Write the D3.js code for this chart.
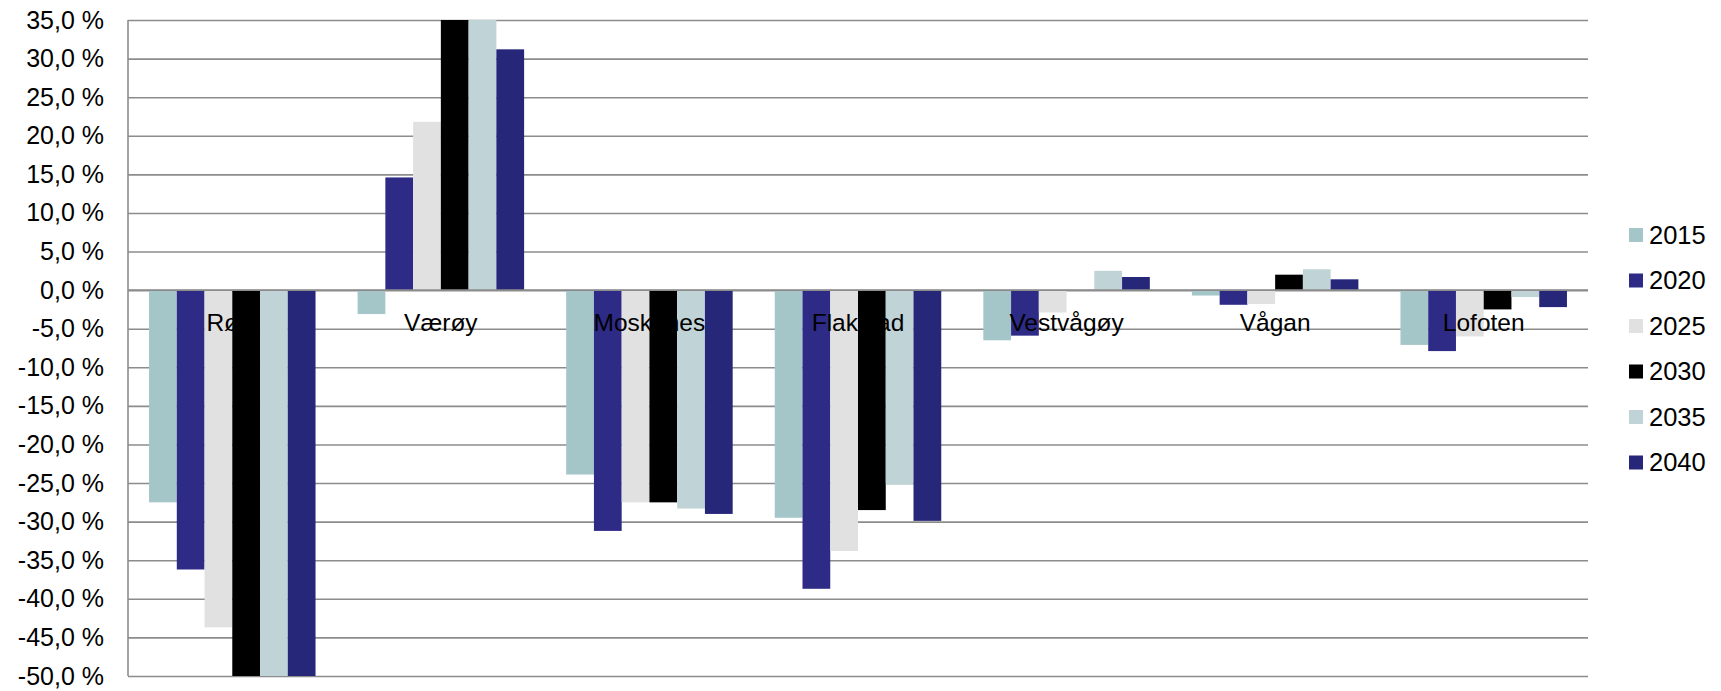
<!DOCTYPE html>
<html>
<head>
<meta charset="utf-8">
<script src="https://cdn.jsdelivr.net/npm/d3@7"></script>
<style>
  body { margin: 0; background: #fff; }
  text { font-family: "Liberation Sans", Arial, sans-serif; fill: #000; }
</style>
</head>
<body>
<div id="chart"></div>
<script>
// data (percent change)
const municipalities = ['Røst', 'Værøy', 'Moskenes', 'Flakstad', 'Vestvågøy', 'Vågan', 'Lofoten'];
const years = ['2015', '2020', '2025', '2030', '2035', '2040'];
const values2015 = [-27.5, -3.1, -23.9, -29.5, -6.5, -0.7, -7.1];
const values2020 = [-36.2, 14.6, -31.2, -38.7, -5.9, -1.9, -7.9];
const values2025 = [-43.7, 21.8, -27.5, -33.8, -2.9, -1.8, -6.0];
const values2030 = [-50.0, 35.0, -27.5, -28.5, 0.0, 2.0, -2.5];
const values2035 = [-50.0, 35.0, -28.3, -25.2, 2.5, 2.7, -0.9];
const values2040 = [-50.0, 31.2, -29.0, -29.9, 1.7, 1.4, -2.2];
const yTicks = [35, 30, 25, 20, 15, 10, 5, 0, -5, -10, -15, -20, -25, -30, -35, -40, -45, -50];

const seriesValues = [values2015, values2020, values2025, values2030, values2035, values2040];
const colors = ['#a5c6c9', '#2e2b87', '#e1e1e1', '#000000', '#c0d3d6', '#27277a'];

const margin = {
  top: 20, right: 133, bottom: 15, left: 128,
};
const totalWidth = 1721;
const totalHeight = 691;
const width = totalWidth - margin.left - margin.right;
const height = totalHeight - margin.top - margin.bottom;

const locale = d3.formatLocale({
  decimal: ',', thousands: ' ', grouping: [3], currency: ['', ''], minus: '-',
});
const fmt = locale.format('.1f');

const x0 = d3.scaleBand()
  .domain(municipalities)
  .range([0, width])
  .padding(0);
const x1 = d3.scaleBand()
  .domain(years)
  .range([0, x0.bandwidth()])
  .paddingInner(0)
  .paddingOuter(0.758);
const y = d3.scaleLinear()
  .domain([-50, 35])
  .range([height, 0]);
const color = d3.scaleOrdinal(years, colors);

const svg = d3.select('#chart').append('svg')
  .attr('width', totalWidth)
  .attr('height', totalHeight);

svg.append('defs').append('clipPath')
  .attr('id', 'plot-clip')
  .append('rect')
  .attr('width', width)
  .attr('height', height);

const g = svg.append('g')
  .attr('transform', `translate(${margin.left},${margin.top})`);

// gridlines + tick labels
const yAxis = g.append('g')
  .call(d3.axisLeft(y)
    .tickValues(yTicks)
    .tickSize(-width)
    .tickPadding(24)
    .tickFormat(d => `${fmt(d)} %`));
yAxis.select('.domain').remove();
yAxis.selectAll('.tick line')
  .attr('stroke', '#8c8c8c')
  .attr('stroke-width', 1.6);
yAxis.selectAll('.tick text')
  .style('font-size', '25px')
  .attr('fill', '#000');

// bars
const rows = municipalities.map((name, i) => ({
  name,
  items: years.map((yr, s) => ({ year: yr, value: seriesValues[s][i] })),
}));

const groups = g.append('g')
  .attr('clip-path', 'url(#plot-clip)')
  .selectAll('.grp')
  .data(rows)
  .enter().append('g')
  .attr('class', 'grp')
  .attr('transform', d => `translate(${x0(d.name)},0)`);

groups.selectAll('rect')
  .data(d => d.items)
  .enter().append('rect')
  .attr('x', d => x1(d.year))
  .attr('width', x1.bandwidth())
  .attr('y', d => y(Math.max(0, d.value)))
  .attr('height', d => Math.abs(y(d.value) - y(0)))
  .attr('fill', d => color(d.year));

// axis frame lines
g.append('line')
  .attr('x1', 0).attr('x2', 0)
  .attr('y1', 0).attr('y2', height)
  .attr('stroke', '#8c8c8c')
  .attr('stroke-width', 1.6);
g.append('line')
  .attr('x1', 0).attr('x2', width)
  .attr('y1', y(0)).attr('y2', y(0))
  .attr('stroke', '#8c8c8c')
  .attr('stroke-width', 1.6);

// category labels
g.selectAll('.cat')
  .data(municipalities)
  .enter().append('text')
  .attr('class', 'cat')
  .attr('x', d => x0(d) + x0.bandwidth() / 2)
  .attr('y', y(0) + 41)
  .attr('text-anchor', 'middle')
  .style('font-size', '24.5px')
  .text(d => d);

// legend
const legend = svg.selectAll('.legend')
  .data(years)
  .enter().append('g')
  .attr('class', 'legend')
  .attr('transform', (d, i) => `translate(1629,${235 + i * 45.5})`);

legend.append('rect')
  .attr('y', -7)
  .attr('width', 14)
  .attr('height', 14)
  .attr('fill', color);

legend.append('text')
  .attr('x', 20)
  .attr('dy', '.35em')
  .style('font-size', '25.5px')
  .text(d => d);
</script>
</body>
</html>
